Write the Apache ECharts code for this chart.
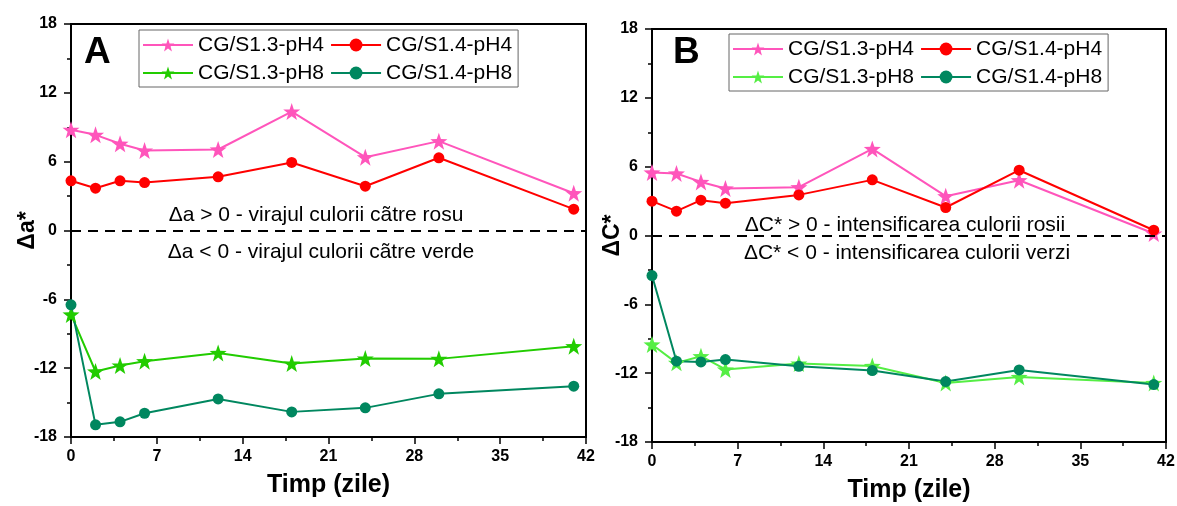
<!DOCTYPE html>
<html>
<head>
<meta charset="utf-8">
<script src="https://cdn.jsdelivr.net/npm/echarts@6/dist/echarts.min.js"></script>
<style>
    html, body { margin: 0; padding: 0; background: #fff; }
    #wrap { position: relative; width: 1177px; height: 506px; background: #fff; }
    #graphA { position: absolute; left: 0; top: 0; width: 610px; height: 506px; }
    #graphB { position: absolute; left: 590px; top: 0; width: 587px; height: 506px; }
</style>
</head>
<body>
<div id="wrap">
    <div id="graphA"></div>
    <div id="graphB"></div>
</div>
<script>
const days = [0, 2, 4, 6, 12, 18, 24, 30, 41];
const names = ['CG/S1.3-pH4', 'CG/S1.4-pH4', 'CG/S1.3-pH8', 'CG/S1.4-pH8'];

// panel A - delta a*
const aPink = [8.78, 8.34, 7.56, 6.97, 7.06, 10.37, 6.39, 7.79, 3.25];
const aRed = [4.33, 3.69, 4.33, 4.18, 4.68, 5.93, 3.86, 6.34, 1.86];
const aGreen = [-7.32, -12.29, -11.77, -11.39, -10.67, -11.6, -11.16, -11.19, -10.08];
const aDark = [-6.48, -16.94, -16.68, -15.93, -14.68, -15.81, -15.46, -14.24, -13.57];

// panel B - delta C*
const cPink = [5.49, 5.41, 4.67, 4.1, 4.21, 7.55, 3.43, 4.82, 0.17];
const cRed = [2.99, 2.12, 3.08, 2.82, 3.54, 4.85, 2.44, 5.69, 0.46];
const cGreen = [-9.5, -11.1, -10.52, -11.68, -11.16, -11.37, -12.85, -12.33, -12.85];
const cDark = [-3.49, -10.96, -11.02, -10.81, -11.4, -11.77, -12.73, -11.72, -12.99];

const xTicks = [0, 7, 14, 21, 28, 35, 42];
const yTicks = [-18, -12, -6, 0, 6, 12, 18];

const FONT = '"Liberation Sans", Arial, sans-serif';
const star = 'path://M0,-10 L2.35,-3.24 L9.51,-3.09 L3.8,1.24 L5.88,8.09 L0,4 L-5.88,8.09 L-3.8,1.24 L-9.51,-3.09 L-2.35,-3.24 Z';

function pairs(vals) {
    return days.map(function (d, i) { return [d, vals[i]]; });
}

function makeSeries(name, vals, color, isStar, zeroLine) {
    const s = {
        name: name,
        type: 'line',
        data: pairs(vals),
        symbol: isStar ? star : 'circle',
        symbolSize: isStar ? 17 : 11,
        showSymbol: true,
        itemStyle: { color: color },
        lineStyle: { color: color, width: 2 },
        animation: false,
    };
    if (zeroLine) {
        s.markLine = {
            silent: true,
            symbol: 'none',
            label: { show: false },
            lineStyle: { color: '#000', type: [10, 7], width: 2 },
            data: [{ yAxis: 0 }],
        };
    }
    return s;
}

function makeOption(p) {
    return {
        backgroundColor: 'transparent',
        animation: false,
        grid: {
            left: p.grid[0], top: p.grid[1], right: p.grid[2], bottom: p.grid[3],
            outerBoundsMode: 'none',
            containLabel: false,
            show: true, borderColor: '#000', borderWidth: 2, backgroundColor: 'transparent',
        },
        legend: {
            left: p.legend[0],
            top: p.legend[1],
            width: 380,
            data: names,
            itemWidth: 50,
            itemHeight: 16,
            itemGap: 6,
            padding: [4, 6, 3, 3],
            borderColor: '#666',
            borderWidth: 1,
            textStyle: { fontFamily: FONT, fontSize: 21, color: '#000', lineHeight: 22 },
        },
        xAxis: {
            type: 'value',
            min: 0,
            max: 42,
            interval: 7,
            name: 'Timp (zile)',
            nameLocation: 'middle',
            nameGap: 36,
            nameMoveOverlap: false,
            nameTextStyle: { fontFamily: FONT, fontSize: 25, fontWeight: 'bold', color: '#000' },
            axisLine: { show: true, onZero: false, lineStyle: { color: '#000', width: 2 } },
            axisTick: { show: true, inside: false, length: 7, lineStyle: { color: '#000', width: 1.5 } },
            minorTick: { show: true, splitNumber: 2, length: 4, lineStyle: { color: '#000', width: 1.5 } },
            splitLine: { show: false },
            axisLabel: {
                margin: 12, fontFamily: FONT, fontSize: 16, fontWeight: 'bold', color: '#000',
                customValues: xTicks,
            },
        },
        yAxis: {
            type: 'value',
            min: -18,
            max: 18,
            interval: 6,
            name: p.yName,
            nameLocation: 'middle',
            nameRotate: 90,
            nameGap: p.nameGap,
            nameMoveOverlap: false,
            nameTextStyle: { fontFamily: FONT, fontSize: 23, fontWeight: 'bold', color: '#000' },
            axisLine: { show: true, onZero: false, lineStyle: { color: '#000', width: 2 } },
            axisTick: { show: true, inside: false, length: 7, lineStyle: { color: '#000', width: 1.5 } },
            minorTick: { show: true, splitNumber: 2, length: 4, lineStyle: { color: '#000', width: 1.5 } },
            splitLine: { show: false },
            axisLabel: {
                margin: 14, fontFamily: FONT, fontSize: 16, fontWeight: 'bold', color: '#000',
                customValues: yTicks,
            },
        },
        graphic: [
            {
                type: 'text', x: p.letter[0], y: p.letter[1], silent: true,
                style: { text: p.letter[2], font: 'bold 37px ' + FONT, fill: '#000', textVerticalAlign: 'middle' },
            },
            {
                type: 'text', x: p.note1[0], y: p.note1[1], silent: true,
                style: { text: p.note1[2], font: '21px ' + FONT, fill: '#000', textAlign: 'center', textVerticalAlign: 'middle' },
            },
            {
                type: 'text', x: p.note2[0], y: p.note2[1], silent: true,
                style: { text: p.note2[2], font: '21px ' + FONT, fill: '#000', textAlign: 'center', textVerticalAlign: 'middle' },
            },
        ],
        series: p.series,
    };
}

const chartA = echarts.init(document.getElementById('graphA'));
chartA.setOption(makeOption({
    grid: [71, 24, 24, 69],
    legend: [139, 30],
    nameGap: 32,
    yName: 'Δa*',
    letter: [84, 53, 'A'],
    note1: [316, 215, 'Δa > 0 - virajul culorii cãtre rosu'],
    note2: [321, 252, 'Δa < 0 - virajul culorii cãtre verde'],
    series: [
        makeSeries(names[0], aPink, '#ff55bb', true, true),
        makeSeries(names[1], aRed, '#ff0000', false, false),
        makeSeries(names[2], aGreen, '#22cc00', true, false),
        makeSeries(names[3], aDark, '#00875f', false, false),
    ],
}));

const chartB = echarts.init(document.getElementById('graphB'));
chartB.setOption(makeOption({
    grid: [62, 29, 11, 64],
    legend: [139, 34],
    nameGap: 28,
    yName: 'ΔC*',
    letter: [83, 53, 'B'],
    note1: [315, 225, 'ΔC* > 0 - intensificarea culorii rosii'],
    note2: [317, 253, 'ΔC* < 0 - intensificarea culorii verzi'],
    series: [
        makeSeries(names[0], cPink, '#ff55bb', true, true),
        makeSeries(names[1], cRed, '#ff0000', false, false),
        makeSeries(names[2], cGreen, '#55ee44', true, false),
        makeSeries(names[3], cDark, '#00875f', false, false),
    ],
}));
</script>
</body>
</html>
